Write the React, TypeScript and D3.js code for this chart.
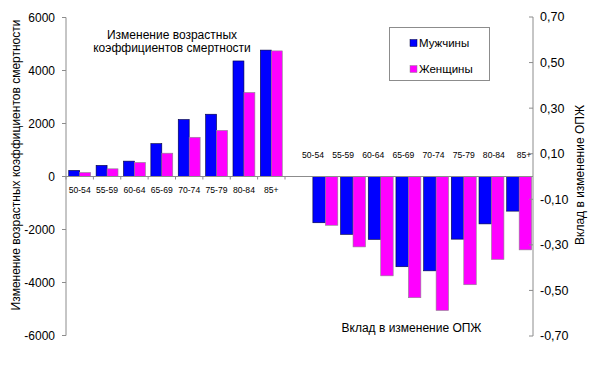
import * as d3 from 'd3';

const ageGroups = ['50-54', '55-59', '60-64', '65-69', '70-74', '75-79', '80-84', '85+'];
// change of age-specific mortality rates
const mortalityMen = [230, 420, 580, 1240, 2150, 2350, 4360, 4770];
const mortalityWomen = [150, 290, 530, 880, 1480, 1740, 3170, 4740];
// contribution to life expectancy change
const contribMen = [-0.203, -0.254, -0.276, -0.396, -0.414, -0.275, -0.208, -0.152];
const contribWomen = [-0.214, -0.309, -0.436, -0.532, -0.588, -0.475, -0.364, -0.322];

const leftTicks = [6000, 4000, 2000, 0, -2000, -4000, -6000];
const rightTicks = [0.7, 0.5, 0.3, 0.1, -0.1, -0.3, -0.5, -0.7];
const seriesNames = ['Мужчины', 'Женщины'];

const W = 598;
const H = 368;
const FONT = '"Liberation Sans", Arial, sans-serif';
const BLUE = '#0000ff';
const PINK = '#ff00ff';
const AXIS = '#8c8c8c';

export default function App() {
  const yLeft = d3.scaleLinear().domain([-6000, 6000]).range([335.5, 17.5]);
  const yRight = d3.scaleLinear().domain([-0.7, 0.7]).range([336, 17]);

  const xLeft = d3.scaleBand<string>().domain(ageGroups).range([66, 285]).paddingInner(0.2).paddingOuter(0.1);
  const xLeftInner = d3.scaleBand<number>().domain([0, 1]).range([0, xLeft.bandwidth()]);

  const xRight = d3.scaleBand<string>().domain(ageGroups).range([311.5, 533]).paddingInner(0.1).paddingOuter(0.05);
  const xRightInner = d3.scaleBand<number>().domain([0, 1]).range([0, xRight.bandwidth()]);

  // separate label positions used by the right-hand group
  const xRightLabels = d3.scalePoint<string>().domain(ageGroups).range([313, 524]);

  const zeroY = yLeft(0);
  const leftStep = xLeft.step();

  const colors = [BLUE, PINK];
  const strokes = ['#00003a', '#8a8a8a'];

  const leftSeries = [mortalityMen, mortalityWomen];
  const rightSeries = [contribMen, contribWomen];

  return (
    <svg width={W} height={H} style={{ position: 'absolute', left: 0, top: 0, background: '#fff' }} fontFamily={FONT}>
      <rect width={W} height={H} fill="#fff" />

      {/* left bars */}
      {leftSeries.map((vals, s) =>
        vals.map((v, i) => {
          const y0 = yLeft(0);
          const y1 = yLeft(v);
          return (
            <rect
              key={`l${s}-${i}`}
              x={(xLeft(ageGroups[i]) ?? 0) + (xLeftInner(s) ?? 0)}
              y={Math.min(y0, y1)}
              width={xLeftInner.bandwidth()}
              height={Math.abs(y1 - y0)}
              fill={colors[s]}
              stroke={strokes[s]}
              strokeWidth={0.6}
            />
          );
        })
      )}

      {/* right bars */}
      {rightSeries.map((vals, s) =>
        vals.map((v, i) => {
          const y0 = yRight(0);
          const y1 = yRight(v);
          return (
            <rect
              key={`r${s}-${i}`}
              x={(xRight(ageGroups[i]) ?? 0) + (xRightInner(s) ?? 0)}
              y={Math.min(y0, y1)}
              width={xRightInner.bandwidth()}
              height={Math.abs(y1 - y0)}
              fill={colors[s]}
              stroke={strokes[s]}
              strokeWidth={0.6}
            />
          );
        })
      )}

      {/* zero line */}
      <line x1={66} x2={533} y1={zeroY} y2={zeroY} stroke={AXIS} strokeWidth={1} />
      {d3.range(ageGroups.length + 1).map((i) => {
        const x = 66 + i * leftStep;
        return <line key={`ct${i}`} x1={x} x2={x} y1={zeroY} y2={zeroY + 3} stroke={AXIS} />;
      })}

      {/* left axis */}
      <line x1={66} x2={66} y1={yLeft(6000)} y2={yLeft(-6000)} stroke={AXIS} />
      {leftTicks.map((t) => (
        <g key={`lt${t}`}>
          <line x1={62} x2={66} y1={yLeft(t)} y2={yLeft(t)} stroke={AXIS} />
          <text x={55} y={yLeft(t)} dy="0.35em" textAnchor="end" fontSize={12} fill="#000">
            {t}
          </text>
        </g>
      ))}

      {/* right axis */}
      <line x1={533} x2={533} y1={yRight(0.7)} y2={yRight(-0.7)} stroke={AXIS} />
      {rightTicks.map((t) => (
        <g key={`rt${t}`}>
          <line x1={529} x2={533} y1={yRight(t)} y2={yRight(t)} stroke={AXIS} />
          <text x={540} y={yRight(t)} dy="0.35em" textAnchor="start" fontSize={12.5} fill="#000">
            {t.toFixed(2).replace('.', ',')}
          </text>
        </g>
      ))}

      {/* category labels */}
      {ageGroups.map((g) => (
        <text
          key={`lc${g}`}
          x={(xLeft(g) ?? 0) + xLeft.bandwidth() / 2}
          y={189.5}
          dy="0.35em"
          textAnchor="middle"
          fontSize={8.6}
          fill="#000"
        >
          {g}
        </text>
      ))}
      {ageGroups.map((g) => (
        <text key={`rc${g}`} x={xRightLabels(g)} y={154.5} dy="0.35em" textAnchor="middle" fontSize={8.6} fill="#000">
          {g}
        </text>
      ))}

      {/* in-chart titles */}
      <text x={172} y={35} dy="0.35em" textAnchor="middle" fontSize={12} fill="#000">
        Изменение возрастных
      </text>
      <text x={172} y={48} dy="0.35em" textAnchor="middle" fontSize={12} fill="#000">
        коэффициентов смертности
      </text>
      <text x={411.5} y={327.5} dy="0.35em" textAnchor="middle" fontSize={12} fill="#000">
        Вклад в изменение ОПЖ
      </text>

      {/* axis titles */}
      <text
        transform={`translate(16,165) rotate(-90)`}
        dy="0.35em"
        textAnchor="middle"
        fontSize={12}
        fill="#000"
      >
        Изменение возрастных коэффициентов смертности
      </text>
      <text
        transform={`translate(580,175) rotate(-90)`}
        dy="0.35em"
        textAnchor="middle"
        fontSize={12}
        fill="#000"
      >
        Вклад в изменение ОПЖ
      </text>

      {/* legend */}
      <rect x={389.5} y={27.5} width={100} height={53} fill="#fff" stroke={AXIS} />
      {seriesNames.map((name, i) => (
        <g key={name}>
          <rect x={410} y={39.5 + i * 26} width={7} height={7} fill={colors[i]} stroke={strokes[i]} strokeWidth={0.5} />
          <text x={419} y={43 + i * 26} dy="0.35em" fontSize={11.5} fill="#000">
            {name}
          </text>
        </g>
      ))}
    </svg>
  );
}
